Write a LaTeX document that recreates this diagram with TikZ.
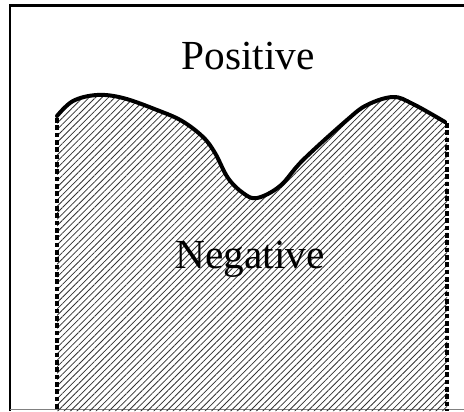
\documentclass[tikz,border=0pt]{standalone}
\usepackage{fontspec}
\setmainfont{Liberation Serif}
\usetikzlibrary{patterns.meta}

\begin{document}
\begin{tikzpicture}[
    x=0.75pt, y=-0.75pt,
    frameline/.style={line width=1.8pt, black},
    boundary/.style={line width=3pt, line cap=round, line join=round},
    edgeline/.style={line width=2.3pt, dash pattern=on 3.5pt off 2pt},
    hatch/.style={pattern={Lines[angle=45, distance=3.4pt, line width=0.6pt]}, pattern color=black!80},
    label/.style={font=\fontsize{31}{35}\selectfont, inner sep=0pt}
]
    \useasboundingbox (0,0) rectangle (464,411);

    % --- Frame (cut at right and bottom) ---
    \draw [frameline] (10,411) -- (10,5.5) -- (464,5.5);
    \draw [gray, line width=0.8pt] (10,409.5) -- (464,409.5);

    % --- Hatched region ---
    \fill [hatch] (57,411)
        -- plot [smooth, tension=0.6] coordinates {(57,116) (73,101) (97,95) (123,98) (157,110) (182,121) (203,137)
            (215,153) (228,178) (243,193) (257,198) (280,186) (303,160) (347,120) (367,105) (393,97) (413,104) (445,122)}
        -- (447,123) -- (447,411) -- cycle;

    % --- Boundary curve ---
    \draw [boundary] plot [smooth, tension=0.6] coordinates {(57,116) (73,101) (97,95) (123,98) (157,110) (182,121) (203,137)
            (215,153) (228,178) (243,193) (257,198) (280,186) (303,160) (347,120) (367,105) (393,97) (413,104) (445,122)};

    % --- Dashed sides ---
    \coordinate (lefttop) at (57,118);
    \coordinate (leftbot) at (57,411);
    \coordinate (righttop) at (447,123);
    \coordinate (rightbot) at (447,411);
    \draw [edgeline] (lefttop) -- (leftbot);
    \draw [edgeline] (righttop) -- (rightbot);

    % Labels
    \node [label, anchor=base] (pos) at (248,69) {Positive};
    \node [label, anchor=base] (neg) at (250,268) {Negative};
\end{tikzpicture}
\end{document}
